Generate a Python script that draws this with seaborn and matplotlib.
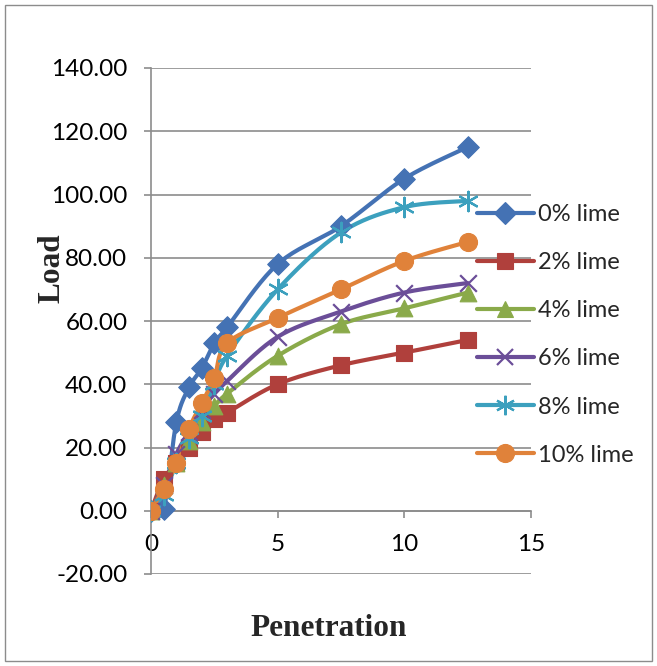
import numpy as np
import pandas as pd
import matplotlib
matplotlib.use("Agg")
import matplotlib.pyplot as plt
from matplotlib.lines import Line2D
from matplotlib.patches import Rectangle
import seaborn as sns

# Penetration readings and load for each lime content
penetration = [0, 0.5, 1.0, 1.5, 2.0, 2.5, 3.0, 5.0, 7.5, 10.0, 12.5]
load_0 = [0, 0.5, 28, 39, 45, 53, 58, 78, 90, 105, 115]
load_2 = [0, 10, 15, 20, 25, 29, 31, 40, 46, 50, 54]
load_4 = [0, 8, 15, 22, 28, 33, 37, 49, 59, 64, 69]
load_6 = [0, 8, 18, 25, 32, 37, 41, 55, 63, 69, 72]
load_8 = [0, 5, 15, 23, 30, 40, 49, 70, 88, 96, 98]
load_10 = [0, 7, 15, 26, 34, 42, 53, 61, 70, 79, 85]

series_labels = ["0% lime", "2% lime", "4% lime", "6% lime", "8% lime", "10% lime"]
series_values = [load_0, load_2, load_4, load_6, load_8, load_10]
colors = ["#4472B4", "#B0403C", "#8AAA4A", "#6B4E98", "#3CA0BE", "#E0823A"]
markers = ["D", "s", "^", "x", (6, 2, 0), "o"]
marker_sizes = [11, 11, 12, 12, 14, 13]

y_ticks = [-20, 0, 20, 40, 60, 80, 100, 120, 140]
x_ticks = [0, 5, 10, 15]

df = pd.DataFrame(
    [(x, y, lab) for lab, vals in zip(series_labels, series_values)
     for x, y in zip(penetration, vals)],
    columns=["Penetration", "Load", "Lime"],
)


def smooth(x, y, steps=20):
    """Cubic Bezier smoothing through the points (Catmull-Rom style)."""
    p = np.column_stack([x, y]).astype(float)
    n = len(p)
    out = [p[0]]
    t = np.linspace(0, 1, steps + 1)[1:, None]
    for i in range(n - 1):
        p0 = p[i - 1] if i > 0 else p[i]
        p3 = p[i + 2] if i + 2 < n else p[i + 1]
        c1 = p[i] + (p[i + 1] - p0) / 6.0
        c2 = p[i + 1] - (p3 - p[i]) / 6.0
        seg = ((1 - t) ** 3) * p[i] + 3 * ((1 - t) ** 2) * t * c1 \
            + 3 * (1 - t) * t ** 2 * c2 + t ** 3 * p[i + 1]
        out.extend(seg)
    out = np.array(out)
    return out[:, 0], out[:, 1]


def edge_width(m):
    return 1.6 if m == "x" or isinstance(m, tuple) else 0.8


sns.set_theme(style="white")
plt.rcParams["font.family"] = ["Lato", "DejaVu Sans"]

W, H = 657, 666
fig = plt.figure(figsize=(W / 100, H / 100), dpi=100)
fig.patch.set_facecolor("white")
ax = fig.add_axes([151 / W, (H - 574) / H, 380 / W, 506 / H])

grid_col = "#8C8C8C"
for lab, col, mk, ms in zip(series_labels, colors, markers, marker_sizes):
    sub = df[df["Lime"] == lab]
    xs, ys = smooth(sub["Penetration"].values, sub["Load"].values)
    ax.plot(xs, ys, color=col, lw=3.0, solid_capstyle="round", zorder=3)
    sns.scatterplot(x=sub["Penetration"], y=sub["Load"], ax=ax, marker=mk,
                    s=ms ** 2, color=col, edgecolor=col,
                    linewidth=edge_width(mk), zorder=4, legend=False)

ax.set_xlim(0, 15)
ax.set_ylim(-20, 140)
ax.set_yticks(y_ticks)
ax.set_yticklabels([f"{v:.2f}" for v in y_ticks])
ax.set_xticks(x_ticks)
ax.set_xticklabels([str(v) for v in x_ticks])

ax.yaxis.grid(True, color=grid_col, lw=1.2)
ax.xaxis.grid(False)
ax.set_axisbelow(True)
for s in ["top", "right"]:
    ax.spines[s].set_visible(False)
ax.spines["left"].set_color(grid_col)
ax.spines["left"].set_linewidth(1.2)
ax.spines["bottom"].set_position(("data", 0))
ax.spines["bottom"].set_color(grid_col)
ax.spines["bottom"].set_linewidth(1.2)
ax.tick_params(axis="y", direction="out", length=5, width=1.2, color=grid_col,
               pad=12, labelsize=17.5, labelcolor="black", left=True)
ax.tick_params(axis="x", direction="out", length=5, width=1.2, color=grid_col,
               pad=12, labelsize=17.5, labelcolor="black", bottom=True)

ax.set_xlabel("")
ax.set_ylabel("")
fig.text(52 / W, 1 - 268 / H, "Load", rotation=90, ha="center", va="center",
         fontsize=22.5, fontweight="bold", family=["Liberation Serif"])
fig.text(329 / W, 1 - 628 / H, "Penetration", ha="center", va="center",
         fontsize=22.5, fontweight="bold", family=["Liberation Serif"])

handles = [Line2D([0], [0], color=c, lw=3.0, marker=m, markersize=ms,
                  markeredgecolor=c, markeredgewidth=edge_width(m))
           for c, m, ms in zip(colors, markers, marker_sizes)]
leg = ax.legend(handles, series_labels, loc="upper left",
                bbox_to_anchor=((477 - 151) / 380, (574 - 204) / 506),
                frameon=False, fontsize=17, handlelength=2.4, handletextpad=0.2,
                labelspacing=1.15, borderpad=0, borderaxespad=0)
leg.set_zorder(5)

fig.add_artist(Rectangle((5 / W, 5 / H), (W - 10) / W, (H - 10) / H,
                         transform=fig.transFigure, fill=False,
                         edgecolor="#8C8C8C", lw=1.0))

fig.savefig("out.png", dpi=100)
